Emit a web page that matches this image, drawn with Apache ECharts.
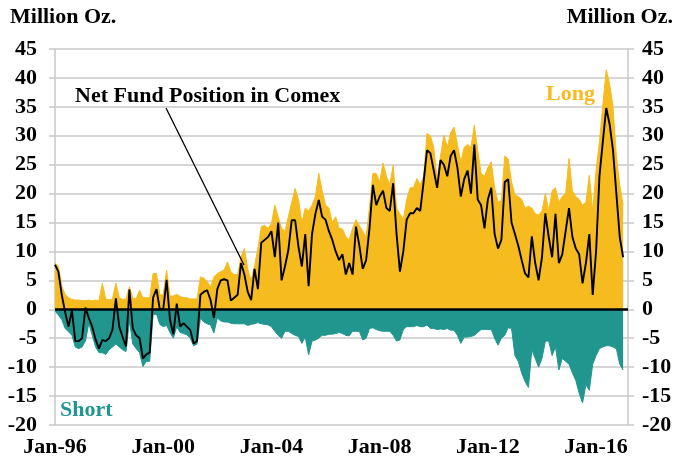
<!DOCTYPE html>
<html>
<head>
<meta charset="utf-8">
<script src="https://cdn.jsdelivr.net/npm/echarts@6/dist/echarts.min.js"></script>
<style>
  html, body { margin: 0; padding: 0; background: #fff; }
  #chart { width: 675px; height: 464px; }
</style>
</head>
<body>
<div id="chart"></div>
<script>
// sample dates: every 1/8 year from Jan-96
const startYear = 1996;
const stepYear = 0.125;

// long positions (million oz)
const longPos = [
  8.0, 7.5, 4.0, 2.6, 2.0, 1.7, 1.6, 1.6, 1.5, 1.5,
  1.6, 1.5, 1.6, 1.5, 4.5, 1.8, 1.6, 1.8, 4.5, 2.0,
  1.7, 1.8, 3.9, 2.0, 1.8, 3.3, 2.0, 2.0, 2.0, 6.2,
  6.2, 2.5, 2.5, 6.8, 2.3, 2.3, 2.6, 2.2, 2.0, 2.0,
  1.8, 1.8, 1.8, 5.6, 5.4, 4.8, 3.9, 5.6, 6.2, 6.5,
  6.8, 8.2, 6.5, 6.0, 6.0, 9.0, 10.5, 7.0, 5.0, 7.5,
  10.5, 14.3, 14.5, 14.0, 14.8, 18.0, 16.0, 14.0, 13.5, 16.0,
  18.5, 20.9, 19.0, 15.0, 17.5, 17.0, 18.0, 19.5, 23.5, 20.5,
  18.0, 17.5, 15.0, 16.0, 14.0, 13.9, 12.5, 12.0, 14.0, 15.5,
  14.5, 13.5, 12.5, 17.7, 23.5, 23.5, 22.0, 25.3, 23.0, 21.5,
  24.9, 17.5, 16.5, 15.5, 19.0, 21.0, 21.0, 22.6, 21.5, 23.0,
  30.4, 30.0, 28.0, 22.5, 26.5, 30.1, 28.0, 30.5, 31.5, 28.5,
  25.5, 28.0, 28.5, 28.0, 31.8, 27.5, 23.5, 23.0, 24.5, 25.5,
  21.0, 18.5, 18.8, 26.5, 26.0, 22.0, 19.8, 19.5, 19.0, 17.5,
  17.8, 17.5, 16.5, 16.3, 17.0, 20.0, 17.0, 20.5, 21.0, 18.5,
  19.5, 20.0, 26.1, 20.5, 19.5, 19.0, 18.0, 18.5, 23.2, 17.0,
  24.0, 29.0, 35.3, 41.4, 39.0, 35.0, 26.5, 21.5, 18.0
];

// short positions (million oz, negative)
const shortPos = [
  -0.3, -1.0, -1.8, -3.3, -3.9, -4.5, -6.5, -6.8, -6.5, -5.5,
  -2.4, -4.5, -6.5, -7.5, -7.5, -7.8, -7.0, -6.5, -6.0, -6.5,
  -7.0, -7.3, -2.0, -6.0, -6.8, -7.5, -9.9, -9.0, -9.0, -1.0,
  -0.8, -2.6, -3.0, -2.8, -4.0, -5.0, -3.0, -4.0, -4.2, -4.4,
  -5.0, -6.3, -6.0, -1.5, -2.2, -2.5, -2.7, -4.1, -1.5, -2.0,
  -2.2, -2.2, -2.4, -2.5, -2.5, -2.5, -2.5, -2.8, -2.6, -2.5,
  -2.3, -2.5, -2.6, -2.7, -3.0, -3.8, -4.5, -5.0, -3.8, -3.8,
  -4.2, -4.5, -4.7, -5.9, -4.8, -7.9, -5.5, -5.3, -5.0, -4.5,
  -4.5, -4.3, -4.3, -4.2, -4.0, -4.2, -4.5, -4.6, -3.8, -3.8,
  -3.8, -5.3, -5.0, -3.3, -3.2, -3.5, -3.7, -3.8, -3.8, -3.8,
  -4.5, -5.5, -5.3, -3.5, -3.0, -3.0, -3.0, -2.8, -3.0, -3.0,
  -2.7, -3.3, -3.3, -3.5, -3.4, -3.5, -3.3, -3.6, -3.6, -4.5,
  -5.9, -4.8, -4.8, -4.7, -4.5, -4.0, -3.5, -3.5, -3.5, -3.5,
  -5.0, -6.2, -5.0, -4.5, -3.2, -3.3, -8.0, -9.0, -11.0, -12.5,
  -13.5, -7.0, -8.5, -10.0, -8.5, -5.5, -5.5, -8.0, -6.5, -10.5,
  -8.5, -9.0, -9.5, -11.0, -12.3, -14.5, -16.2, -13.0, -14.0, -9.5,
  -8.0, -6.8, -6.5, -6.3, -6.3, -6.5, -6.8, -9.5, -10.5
];

// net fund position in Comex
const netPos = [
  7.7, 6.5, 2.5, -0.5, -3.0, -0.2, -5.5, -5.5, -5.0, 0.3,
  -1.5, -3.0, -5.2, -6.8, -5.3, -5.5, -5.0, -3.5, 1.9, -3.0,
  -4.8, -6.4, 3.4, -3.3, -4.5, -5.0, -8.5, -7.8, -7.5, 2.0,
  3.5, 0.0, 0.0, 5.1, -1.8, -4.3, 1.0, -3.0, -2.4, -3.0,
  -3.6, -5.9, -5.5, 2.5, 3.0, 3.3, 1.6, -1.5, 3.5, 5.0,
  5.2, 5.0, 1.5, 2.0, 2.5, 8.0, 6.0, 3.0, 1.6, 7.0,
  3.5, 11.5, 12.0, 12.5, 13.5, 9.0, 15.0, 5.0, 7.4, 10.2,
  15.4, 15.4, 10.8, 7.4, 13.0, 4.0, 13.0, 16.5, 18.9, 16.0,
  15.5, 13.5, 12.0, 10.0, 8.5, 9.5, 6.0, 8.0, 6.0, 14.3,
  11.0, 7.0, 8.5, 14.0, 21.5, 18.0, 19.5, 20.5, 17.5, 17.0,
  21.8, 13.0, 6.5, 10.0, 15.5, 16.6, 16.6, 17.5, 17.0, 22.0,
  27.5, 27.0, 24.0, 21.0, 25.8, 25.0, 23.0, 26.5, 27.5, 24.5,
  19.5, 22.5, 24.0, 20.0, 28.5, 19.0, 18.0, 14.0, 19.0, 21.0,
  13.0, 10.5, 12.0, 22.0, 22.5, 15.0, 13.0, 11.0, 8.5, 6.2,
  5.5, 12.6, 8.0, 5.0, 9.0, 16.6, 12.5, 9.0, 16.5, 8.0,
  9.5, 13.5, 17.5, 12.5, 10.5, 9.5, 4.5, 8.0, 13.0, 2.5,
  10.0, 23.0, 29.0, 34.8, 32.0, 27.5, 20.0, 12.5, 9.0
];

const yTicks = { min: -20, max: 45, step: 5 };

const FONT = "'Liberation Serif', 'Times New Roman', serif";
const GOLD = '#F5BB1F';
const TEAL = '#21968F';
const GRID = '#c8c8c8';

const years = longPos.map((_, i) => startYear + i * stepYear);
const pair = (arr) => arr.map((v, i) => [years[i], v]);

const chart = echarts.init(document.getElementById('chart'));

const yAxisBase = {
  type: 'value',
  min: yTicks.min,
  max: yTicks.max,
  interval: yTicks.step,
  axisLine: { show: true, lineStyle: { color: GRID, width: 1.5 } },
  axisTick: { show: true, length: 6, lineStyle: { color: GRID, width: 1.5 } },
  axisLabel: { color: '#000', fontSize: 22, fontWeight: 'bold', fontFamily: FONT }
};

const options = {
  animation: false,
  grid: { left: 55, right: 47, top: 49, bottom: 39 },
  xAxis: {
    type: 'value',
    min: 1996,
    max: 2017.18,
    interval: 4,
    axisLine: { show: false },
    axisTick: { show: false },
    splitLine: { show: false },
    axisLabel: {
      margin: 11,
      color: '#000',
      fontSize: 22,
      fontWeight: 'bold',
      fontFamily: FONT,
      showMaxLabel: false,
      formatter: (v) => (v % 4 === 0 ? 'Jan-' + String(v).slice(2) : '')
    }
  },
  yAxis: [
    {
      ...yAxisBase,
      position: 'left',
      splitLine: { show: true, lineStyle: { color: GRID, width: 1.5 } },
      axisLabel: { ...yAxisBase.axisLabel, margin: 18 }
    },
    {
      ...yAxisBase,
      position: 'right',
      splitLine: { show: false },
      axisLabel: { ...yAxisBase.axisLabel, margin: 14 }
    }
  ],
  series: [
    {
      name: 'Long',
      type: 'line',
      data: pair(longPos),
      symbol: 'none',
      lineStyle: { color: GOLD, width: 1 },
      areaStyle: { color: GOLD, opacity: 1 }
    },
    {
      name: 'Short',
      type: 'line',
      data: pair(shortPos),
      symbol: 'none',
      lineStyle: { color: TEAL, width: 1 },
      areaStyle: { color: TEAL, opacity: 1 },
      markLine: {
        silent: true,
        symbol: 'none',
        label: { show: false },
        lineStyle: { color: '#000', width: 2.5, type: 'solid' },
        data: [{ yAxis: 0 }]
      }
    },
    {
      name: 'Net Fund Position in Comex',
      type: 'line',
      data: pair(netPos),
      symbol: 'none',
      z: 5,
      lineStyle: { color: '#000', width: 1.9 }
    }
  ],
  graphic: [
    {
      type: 'text', left: 10, top: 6,
      style: { text: 'Million Oz.', font: 'bold 22px ' + FONT, fill: '#000' }
    },
    {
      type: 'text', right: 2, top: 6,
      style: { text: 'Million Oz.', font: 'bold 22px ' + FONT, fill: '#000' }
    },
    {
      type: 'text', left: 75, top: 85,
      style: { text: 'Net Fund Position in Comex', font: 'bold 22px ' + FONT, fill: '#000' }
    },
    {
      type: 'line', z: 10,
      shape: { x1: 166, y1: 108, x2: 244, y2: 265 },
      style: { stroke: '#000', lineWidth: 1.3 }
    },
    {
      type: 'text', left: 546, top: 83, z: 10,
      style: { text: 'Long', font: 'bold 22px ' + FONT, fill: GOLD }
    },
    {
      type: 'text', left: 60, top: 399, z: 10,
      style: { text: 'Short', font: 'bold 22px ' + FONT, fill: TEAL }
    }
  ]
};

chart.setOption(options);
</script>
</body>
</html>
